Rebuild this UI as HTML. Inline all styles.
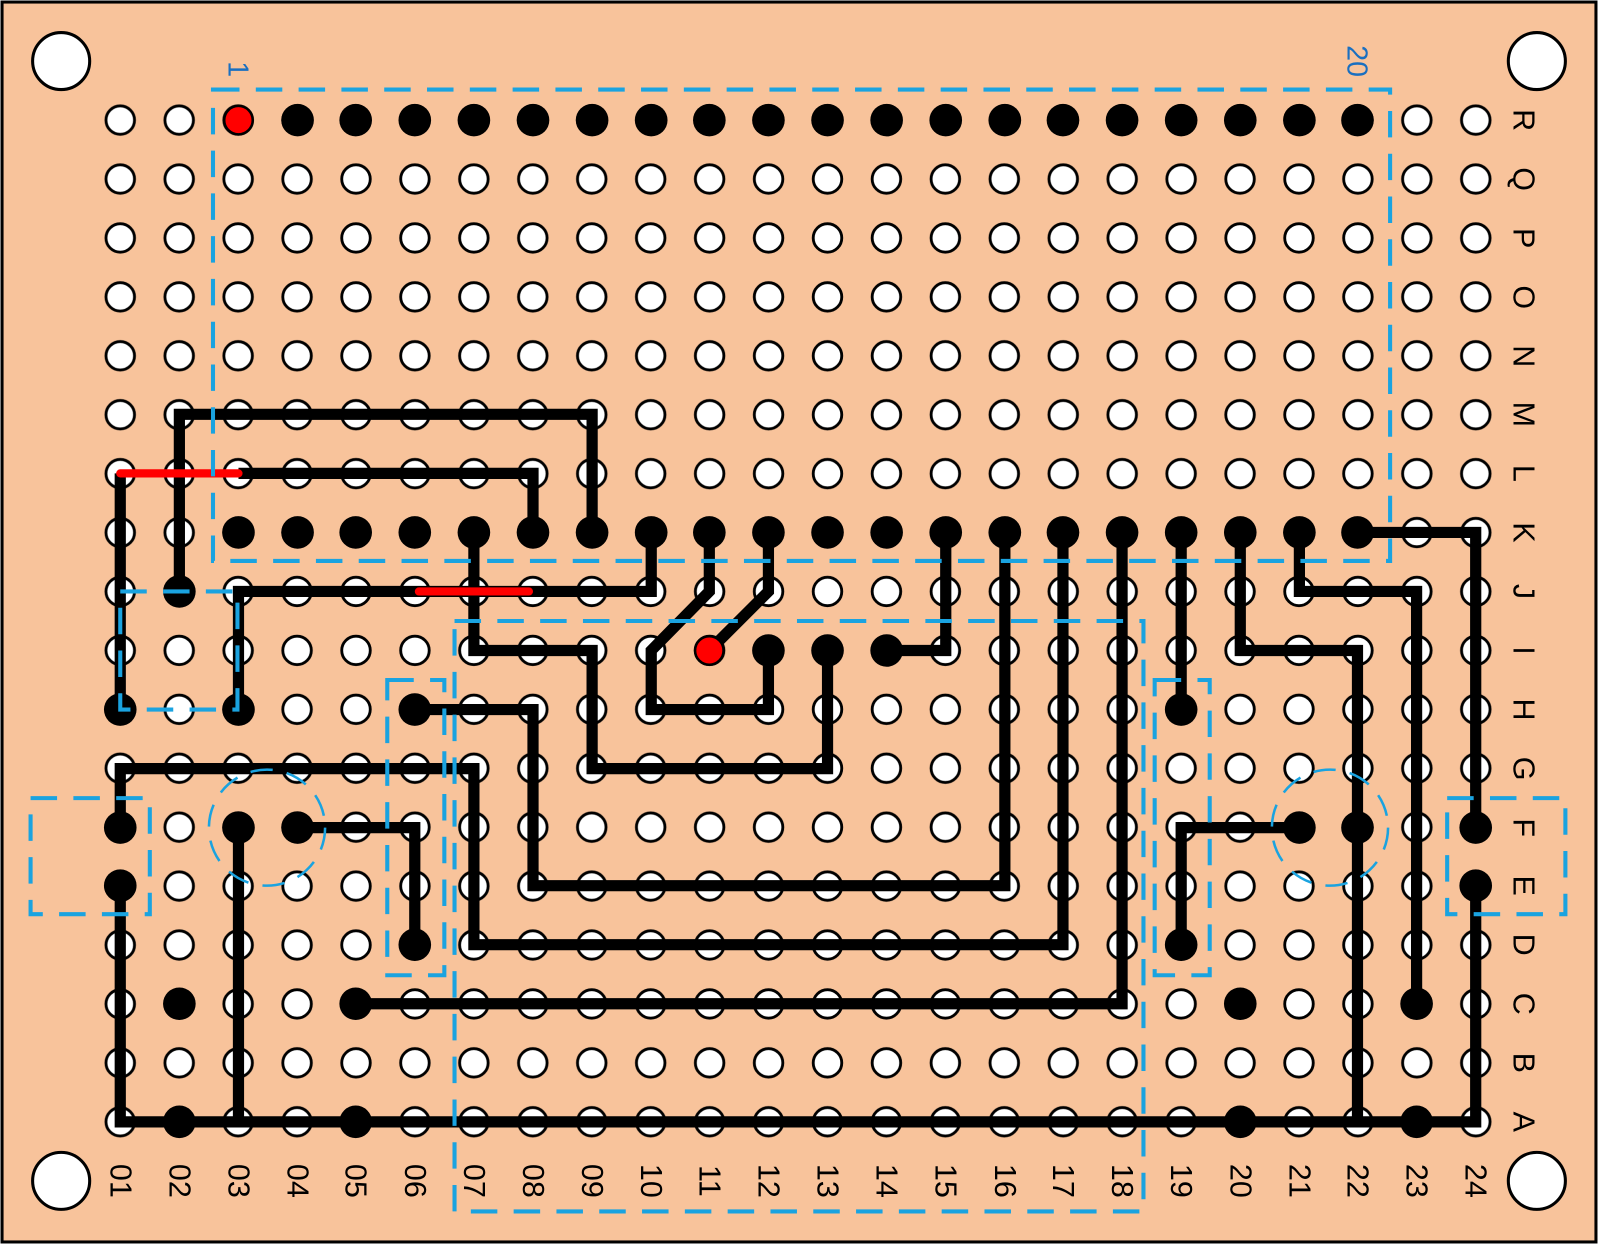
<!DOCTYPE html>
<html><head><meta charset="utf-8"><style>html,body{margin:0;padding:0;background:#fff}svg{display:block}</style></head>
<body>
<svg width="1598" height="1244" viewBox="0 0 1568 1222" preserveAspectRatio="none" xmlns="http://www.w3.org/2000/svg">
<defs>
<pattern id="h" patternUnits="userSpaceOnUse" x="89.1" y="89.1" width="57.83" height="57.88">
<circle cx="28.9" cy="28.9" r="14" fill="#fff" stroke="#000" stroke-width="2.8"/>
</pattern>
</defs>
<rect x="2" y="2" width="1564" height="1218" fill="#f8c39b" stroke="#000" stroke-width="3"/>
<g fill="#fff" stroke="#000" stroke-width="3">
<circle cx="60" cy="60" r="28"/><circle cx="1508" cy="60" r="28"/>
<circle cx="60" cy="1160" r="28"/><circle cx="1508" cy="1160" r="28"/>
</g>
<rect x="89.1" y="89.1" width="1387.9" height="1041.8" fill="url(#h)"/>

<g fill="none" stroke="#000" stroke-width="11" stroke-linejoin="miter">
<polyline points="176,581 176,407 581,407 581,523"/>
<polyline points="234,465 523,465 523,523"/>
<polyline points="118,465 118,697"/>
<polyline points="234,697 234,581 639,581 639,523"/>
<polyline points="465,523 465,639 581,639 581,755 812,755 812,639"/>
<polyline points="696,523 696,581 639,639 639,697 754,697 754,639"/>
<polyline points="754,523 754,581 696,639"/>
<polyline points="928,523 928,639 870,639"/>
<polyline points="407,697 523,697 523,870 986,870 986,523"/>
<polyline points="118,813 118,755 465,755 465,928 1043,928 1043,523"/>
<polyline points="349,986 1101,986 1101,523"/>
<polyline points="1159,523 1159,697"/>
<polyline points="1217,523 1217,639 1332,639 1332,1102"/>
<polyline points="1275,523 1275,581 1390,581 1390,986"/>
<polyline points="1332,523 1448,523 1448,813"/>
<polyline points="1448,870 1448,1102 118,1102 118,870"/>
<polyline points="234,813 234,1102"/>
<polyline points="292,813 407,813 407,928"/>
<polyline points="1159,928 1159,813 1275,813"/>
</g>
<g stroke="#f00" stroke-width="8" stroke-linecap="round">
<line x1="118" y1="465" x2="234" y2="465"/>
<line x1="411" y1="581" x2="519" y2="581"/>
</g>

<g fill="#000">
<circle cx="292" cy="118" r="16"/><circle cx="349" cy="118" r="16"/><circle cx="407" cy="118" r="16"/><circle cx="465" cy="118" r="16"/><circle cx="523" cy="118" r="16"/><circle cx="581" cy="118" r="16"/><circle cx="639" cy="118" r="16"/><circle cx="696" cy="118" r="16"/><circle cx="754" cy="118" r="16"/><circle cx="812" cy="118" r="16"/><circle cx="870" cy="118" r="16"/><circle cx="928" cy="118" r="16"/><circle cx="986" cy="118" r="16"/><circle cx="1043" cy="118" r="16"/><circle cx="1101" cy="118" r="16"/><circle cx="1159" cy="118" r="16"/><circle cx="1217" cy="118" r="16"/><circle cx="1275" cy="118" r="16"/><circle cx="1332" cy="118" r="16"/>
<circle cx="234" cy="523" r="16"/><circle cx="292" cy="523" r="16"/><circle cx="349" cy="523" r="16"/><circle cx="407" cy="523" r="16"/><circle cx="465" cy="523" r="16"/><circle cx="523" cy="523" r="16"/><circle cx="581" cy="523" r="16"/><circle cx="639" cy="523" r="16"/><circle cx="696" cy="523" r="16"/><circle cx="754" cy="523" r="16"/><circle cx="812" cy="523" r="16"/><circle cx="870" cy="523" r="16"/><circle cx="928" cy="523" r="16"/><circle cx="986" cy="523" r="16"/><circle cx="1043" cy="523" r="16"/><circle cx="1101" cy="523" r="16"/><circle cx="1159" cy="523" r="16"/><circle cx="1217" cy="523" r="16"/><circle cx="1275" cy="523" r="16"/><circle cx="1332" cy="523" r="16"/>
<circle cx="176" cy="581" r="16"/>
<circle cx="118" cy="697" r="16"/><circle cx="234" cy="697" r="16"/><circle cx="407" cy="697" r="16"/>
<circle cx="754" cy="639" r="16"/><circle cx="812" cy="639" r="16"/><circle cx="870" cy="639" r="16"/>
<circle cx="1159" cy="697" r="16"/>
<circle cx="118" cy="813" r="16"/><circle cx="118" cy="870" r="16"/><circle cx="234" cy="813" r="16"/><circle cx="292" cy="813" r="16"/><circle cx="407" cy="928" r="16"/>
<circle cx="176" cy="986" r="16"/><circle cx="349" cy="986" r="16"/><circle cx="176" cy="1102" r="16"/><circle cx="349" cy="1102" r="16"/>
<circle cx="1275" cy="813" r="16"/><circle cx="1332" cy="813" r="16"/><circle cx="1448" cy="813" r="16"/><circle cx="1448" cy="870" r="16"/>
<circle cx="1159" cy="928" r="16"/><circle cx="1217" cy="986" r="16"/><circle cx="1390" cy="986" r="16"/><circle cx="1217" cy="1102" r="16"/><circle cx="1390" cy="1102" r="16"/>
</g>
<g fill="#f00" stroke="#000" stroke-width="2.5">
<circle cx="234" cy="118" r="14"/><circle cx="696" cy="639" r="14"/>
</g>

<g fill="none" stroke="#1aa3e0" stroke-width="4" stroke-dasharray="26,16">
<rect x="209" y="88" width="1155" height="463"/>
<rect x="118" y="581" width="115" height="116"/>
<rect x="446" y="610" width="676" height="580"/>
<rect x="380" y="668" width="56" height="290"/>
<rect x="1133" y="668" width="54" height="290"/>
<rect x="30" y="784" width="117" height="114"/>
<rect x="1420" y="784" width="116" height="114"/>
<circle cx="262" cy="813" r="57" stroke-width="2.5" stroke-dasharray="22,14"/>
<circle cx="1305" cy="813" r="57" stroke-width="2.5" stroke-dasharray="22,14"/>
</g>
<g font-family="Liberation Sans, sans-serif" font-size="28" fill="#1a6fc0">
<text transform="translate(233,68) rotate(90)" text-anchor="middle" dominant-baseline="central">1</text>
<text transform="translate(1331,60) rotate(90)" text-anchor="middle" dominant-baseline="central">20</text>
</g>

<g font-family="Liberation Sans, sans-serif" font-size="30" fill="#000" text-anchor="middle" dominant-baseline="central">
<text transform="translate(118,1160) rotate(90)">01</text>
<text transform="translate(176,1160) rotate(90)">02</text>
<text transform="translate(234,1160) rotate(90)">03</text>
<text transform="translate(292,1160) rotate(90)">04</text>
<text transform="translate(349,1160) rotate(90)">05</text>
<text transform="translate(407,1160) rotate(90)">06</text>
<text transform="translate(465,1160) rotate(90)">07</text>
<text transform="translate(523,1160) rotate(90)">08</text>
<text transform="translate(581,1160) rotate(90)">09</text>
<text transform="translate(639,1160) rotate(90)">10</text>
<text transform="translate(696,1160) rotate(90)">11</text>
<text transform="translate(754,1160) rotate(90)">12</text>
<text transform="translate(812,1160) rotate(90)">13</text>
<text transform="translate(870,1160) rotate(90)">14</text>
<text transform="translate(928,1160) rotate(90)">15</text>
<text transform="translate(986,1160) rotate(90)">16</text>
<text transform="translate(1043,1160) rotate(90)">17</text>
<text transform="translate(1101,1160) rotate(90)">18</text>
<text transform="translate(1159,1160) rotate(90)">19</text>
<text transform="translate(1217,1160) rotate(90)">20</text>
<text transform="translate(1275,1160) rotate(90)">21</text>
<text transform="translate(1332,1160) rotate(90)">22</text>
<text transform="translate(1390,1160) rotate(90)">23</text>
<text transform="translate(1448,1160) rotate(90)">24</text>
<text transform="translate(1495,118) rotate(90)">R</text>
<text transform="translate(1495,176) rotate(90)">Q</text>
<text transform="translate(1495,234) rotate(90)">P</text>
<text transform="translate(1495,292) rotate(90)">O</text>
<text transform="translate(1495,350) rotate(90)">N</text>
<text transform="translate(1495,407) rotate(90)">M</text>
<text transform="translate(1495,465) rotate(90)">L</text>
<text transform="translate(1495,523) rotate(90)">K</text>
<text transform="translate(1495,581) rotate(90)">J</text>
<text transform="translate(1495,639) rotate(90)">I</text>
<text transform="translate(1495,697) rotate(90)">H</text>
<text transform="translate(1495,755) rotate(90)">G</text>
<text transform="translate(1495,813) rotate(90)">F</text>
<text transform="translate(1495,870) rotate(90)">E</text>
<text transform="translate(1495,928) rotate(90)">D</text>
<text transform="translate(1495,986) rotate(90)">C</text>
<text transform="translate(1495,1044) rotate(90)">B</text>
<text transform="translate(1495,1102) rotate(90)">A</text>
</g>
</svg>
</body></html>
